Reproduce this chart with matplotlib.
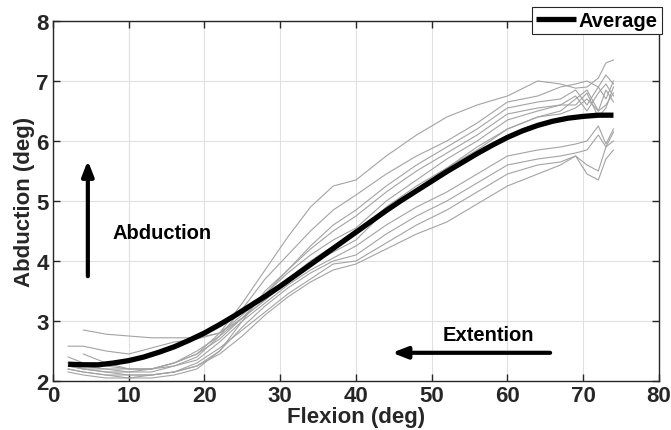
import numpy as np
import matplotlib
matplotlib.use('Agg')
import matplotlib.pyplot as plt

plt.rcParams['font.family'] = ['Liberation Sans', 'DejaVu Sans']
plt.rcParams['font.weight'] = 'bold'

# flexion angles shared by every trial (deg)
flexion = [2, 4, 7, 10, 13, 16, 19, 22, 25, 28, 31, 34, 37, 40, 44, 48, 52, 56, 60, 64, 67, 69, 70.5, 72, 73, 74]

# abduction of each trial (deg), None where the trial has not started yet
trial_u1 = [2.3, 2.2, 2.15, 2.15, 2.2, 2.3, 2.45, 2.8, 3.3, 3.85, 4.4, 4.9, 5.25, 5.35, 5.75, 6.1, 6.4, 6.6, 6.75, 7.0, 6.95, 6.88, 6.9, 7.05, 7.3, 7.35]
trial_u2 = [2.25, 2.2, 2.2, 2.15, 2.15, 2.25, 2.4, 2.75, 3.2, 3.7, 4.1, 4.5, 4.85, 5.1, 5.45, 5.75, 6.0, 6.3, 6.65, 6.75, 6.9, 6.95, 7.0, 6.9, 7.1, 6.95]
trial_u3 = [2.2, 2.15, 2.1, 2.1, 2.1, 2.15, 2.25, 2.5, 3.0, 3.5, 3.85, 4.25, 4.6, 4.85, 5.25, 5.6, 5.9, 6.2, 6.55, 6.65, 6.7, 6.85, 6.6, 6.9, 6.7, 7.0]
trial_u4 = [2.4, 2.3, 2.25, 2.2, 2.2, 2.3, 2.45, 2.7, 3.05, 3.45, 3.85, 4.2, 4.5, 4.75, 5.15, 5.5, 5.8, 6.1, 6.45, 6.55, 6.6, 6.75, 6.5, 6.8, 6.95, 6.75]
trial_u5 = [None, 2.85, 2.78, 2.75, 2.72, 2.72, 2.72, 2.8, 3.1, 3.45, 3.8, 4.1, 4.35, 4.55, 5.0, 5.35, 5.7, 6.0, 6.35, 6.5, 6.6, 6.6, 6.8, 6.4, 6.55, 6.9]
trial_u6 = [2.58, 2.58, 2.5, 2.45, 2.55, 2.65, 2.7, 2.8, 3.05, 3.35, 3.7, 4.0, 4.25, 4.45, 4.9, 5.25, 5.55, 5.85, 6.2, 6.4, 6.45, 6.55, 6.7, 6.5, 6.85, 6.65]
trial_u7 = [None, 2.45, 2.3, 2.2, 2.2, 2.3, 2.5, 2.75, 3.05, 3.35, 3.65, 3.95, 4.15, 4.35, 4.85, 5.2, 5.55, 5.9, 6.2, 6.4, 6.5, 6.7, 6.85, 6.5, 6.6, 6.8]
trial_l1 = [2.3, 2.25, 2.2, 2.2, 2.2, 2.25, 2.35, 2.65, 3.0, 3.3, 3.6, 3.85, 4.05, 4.25, 4.6, 4.9, 5.15, 5.45, 5.75, 5.85, 5.9, 5.95, 6.0, 6.25, 5.95, 6.2]
trial_l2 = [2.2, 2.15, 2.1, 2.05, 2.05, 2.1, 2.2, 2.5, 2.9, 3.25, 3.55, 3.8, 4.0, 4.1, 4.45, 4.75, 5.0, 5.3, 5.6, 5.7, 5.75, 5.8, 5.85, 6.1, 5.9, 6.15]
trial_l3 = [2.15, 2.1, 2.05, 2.05, 2.1, 2.15, 2.3, 2.55, 2.85, 3.15, 3.45, 3.7, 3.95, 4.0, 4.3, 4.6, 4.85, 5.15, 5.45, 5.6, 5.65, 5.75, 5.6, 5.5, 5.9, 6.0]
trial_l4 = [2.25, 2.2, 2.15, 2.1, 2.1, 2.15, 2.25, 2.45, 2.75, 3.1, 3.4, 3.65, 3.85, 3.95, 4.2, 4.45, 4.65, 4.95, 5.25, 5.45, 5.6, 5.75, 5.45, 5.35, 5.7, 5.85]

trials = [trial_u1, trial_u2, trial_u3, trial_u4, trial_u5, trial_u6, trial_u7,
          trial_l1, trial_l2, trial_l3, trial_l4]

# average curve
avg_flexion = [2, 4, 6, 8, 10, 12, 14, 16, 18, 20, 22, 24, 26, 28, 30, 32, 34, 36, 38,
               40, 42, 44, 46, 48, 50, 52, 54, 56, 58, 60, 62, 64, 66, 68, 70, 72, 74]
avg_abduction = [2.28, 2.27, 2.27, 2.3, 2.34, 2.4, 2.48, 2.57, 2.68, 2.8, 2.94, 3.09, 3.25,
                 3.41, 3.58, 3.76, 3.94, 4.12, 4.3, 4.48, 4.66, 4.84, 5.01, 5.17, 5.33,
                 5.49, 5.64, 5.79, 5.93, 6.06, 6.17, 6.26, 6.33, 6.38, 6.41, 6.43, 6.43]

dark = '#262626'

fig = plt.figure(figsize=(6.71, 4.31), dpi=100)
ax = fig.add_axes([0.079, 0.1137, 0.903, 0.8353])

# individual trials in thin gray
for t in trials:
    y = np.array([np.nan if v is None else v for v in t], dtype=float)
    ax.plot(flexion, y, color='#a3a3a3', linewidth=0.8)

# average in thick black
ax.plot(avg_flexion, avg_abduction, color='black', linewidth=3.8, label='Average',
        solid_capstyle='butt')

ax.set_xlim(0, 80)
ax.set_ylim(2, 8)
ax.set_xticks(range(0, 81, 10))
ax.set_yticks(range(2, 9))
ax.grid(True, color='#e0e0e0', linewidth=0.8)
ax.set_axisbelow(True)
ax.tick_params(direction='in', top=True, right=True, length=5, width=1,
               colors=dark, labelsize=16, pad=3)
for lab in ax.get_xticklabels() + ax.get_yticklabels():
    lab.set_fontweight('bold')
for sp in ax.spines.values():
    sp.set_color(dark)
    sp.set_linewidth(1)

ax.set_xlabel('Flexion (deg)', fontsize=16, fontweight='bold', color=dark, labelpad=0)
ax.set_ylabel('Abduction (deg)', fontsize=16, fontweight='bold', color=dark, labelpad=1)

# direction arrows and labels
ax.annotate('', xy=(4.6, 5.72), xytext=(4.6, 3.7),
            arrowprops=dict(arrowstyle='-|>,head_length=0.9,head_width=0.35',
                            color='black', linewidth=3))
ax.text(7.9, 4.48, 'Abduction', fontsize=14.5, fontweight='bold', va='center', ha='left')
ax.annotate('', xy=(44.4, 2.47), xytext=(66, 2.47),
            arrowprops=dict(arrowstyle='-|>,head_length=0.9,head_width=0.35',
                            color='black', linewidth=3))
ax.text(51.5, 2.78, 'Extention', fontsize=14.5, fontweight='bold', va='center', ha='left')

# legend sitting over the top right corner
leg = fig.legend(loc='upper right', bbox_to_anchor=(662 / 671, 1 - 8 / 431),
                 prop={'size': 14.5, 'weight': 'bold'}, fancybox=False,
                 framealpha=1, edgecolor=dark, handlelength=2.0,
                 borderpad=0.2, borderaxespad=0, handletextpad=0.15)
leg.get_frame().set_linewidth(0.8)

fig.savefig('out.png', dpi=100)
